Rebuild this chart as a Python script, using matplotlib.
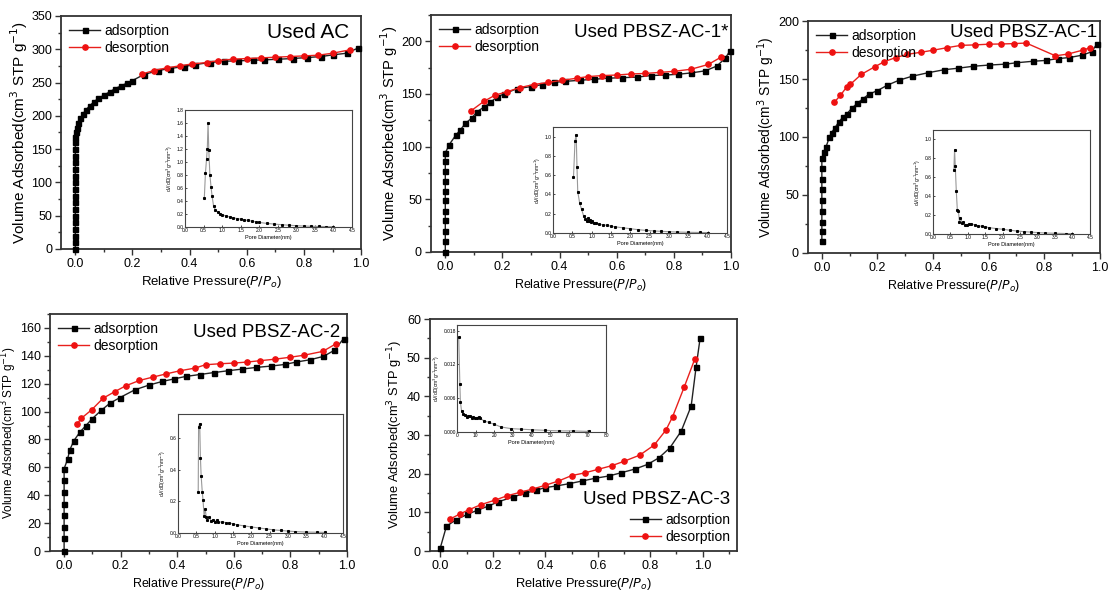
import matplotlib.pyplot as plt
from matplotlib.ticker import MultipleLocator

plt.rcParams['font.family'] = ['Liberation Sans', 'DejaVu Sans']

# ---- isotherm data (relative pressure, volume adsorbed) ----
ac_ads_x = [0] * 18 + [0.002, 0.005, 0.01, 0.018, 0.027, 0.037, 0.05, 0.065, 0.08, 0.1, 0.12, 0.14,
                       0.16, 0.18, 0.2, 0.24, 0.29, 0.33, 0.38, 0.42, 0.47, 0.52, 0.57, 0.62, 0.66,
                       0.71, 0.76, 0.81, 0.86, 0.9, 0.95, 0.99]
ac_ads_y = [0, 10, 20, 30, 40, 50, 60, 70, 80, 90, 100, 110, 120, 130, 140, 150, 160, 168,
            175, 182, 189, 196, 203, 209, 215, 221, 226, 231, 236, 241, 245, 249, 253, 262, 268,
            271, 274, 277, 280, 282, 282.5, 283.5, 284, 285, 286, 287.5, 289, 291.5, 294, 302]
ac_des_x = [0.235, 0.275, 0.32, 0.365, 0.41, 0.46, 0.5, 0.55, 0.6, 0.65, 0.7, 0.75, 0.8, 0.85,
            0.9, 0.96]
ac_des_y = [263, 268, 272, 275, 278, 280, 283, 285, 286, 287, 288, 289, 290, 291, 294, 299]

p1s_ads_x = [0] * 11 + [0.014, 0.037, 0.053, 0.07, 0.094, 0.11, 0.135, 0.158, 0.18, 0.205, 0.25,
                        0.3, 0.34, 0.38, 0.42, 0.47, 0.52, 0.57, 0.62, 0.67, 0.72, 0.77, 0.815,
                        0.86, 0.91, 0.95, 0.98, 0.995]
p1s_ads_y = [0, 10, 20, 30, 39, 49, 58, 67, 77, 86, 94, 102, 111, 116, 122, 127.5, 133, 137.5,
             142, 147, 150, 155, 157, 159, 161, 162, 163, 164, 165, 165.5, 166, 167.5, 168,
             168.7, 170, 172, 176.5, 184, 190.5]
p1s_des_x = [0.09, 0.135, 0.175, 0.215, 0.26, 0.31, 0.36, 0.41, 0.46, 0.5, 0.55, 0.6, 0.65, 0.7,
             0.75, 0.8, 0.86, 0.92, 0.965]
p1s_des_y = [134, 143, 149, 152, 156, 159, 161, 163, 165, 166.5, 167.5, 168, 169, 169.5, 170.5,
             171.5, 173.5, 178, 185]

p1_ads_x = [0] * 9 + [0.008, 0.015, 0.027, 0.035, 0.047, 0.06, 0.075, 0.09, 0.107, 0.127, 0.148,
                      0.17, 0.2, 0.236, 0.278, 0.325, 0.38, 0.44, 0.49, 0.545, 0.6, 0.66, 0.7,
                      0.76, 0.805, 0.85, 0.89, 0.935, 0.97, 0.99]
p1_ads_y = [10, 19, 27, 36, 46, 55, 64, 73, 82, 87, 91.5, 99.7, 103.7, 108, 112.6, 117, 120,
            124.6, 129, 133, 137, 140, 144.7, 149, 152.4, 155.3, 158, 159.3, 161, 162, 162.8,
            164, 165.3, 166, 167.6, 168.5, 170.5, 173.4, 180.5]
p1_des_x = [0.045, 0.067, 0.089, 0.103, 0.142, 0.19, 0.225, 0.266, 0.308, 0.355, 0.4, 0.45, 0.5,
            0.55, 0.6, 0.645, 0.69, 0.735, 0.84, 0.885, 0.94, 0.965]
p1_des_y = [130, 136, 143, 145.5, 154, 160.5, 165, 168.5, 171.3, 173, 174.8, 177, 179, 179.4,
            180, 180.2, 180.5, 181, 170, 171.5, 175, 177]

p2_ads_x = [0] * 8 + [0.012, 0.02, 0.034, 0.055, 0.077, 0.1, 0.132, 0.162, 0.197, 0.25, 0.3,
                      0.347, 0.39, 0.43, 0.48, 0.53, 0.58, 0.63, 0.68, 0.73, 0.78, 0.82, 0.87,
                      0.917, 0.956, 0.988]
p2_ads_y = [0, 9, 17, 26, 34, 42, 51, 59, 65.7, 72.4, 79, 85, 90, 95, 101, 106, 110, 115.6, 119,
            121.6, 123.5, 125.2, 126.6, 128, 129.3, 130.5, 131.7, 132.6, 133.8, 135.5, 137.2,
            139.6, 144, 152.3]
p2_des_x = [0.046, 0.061, 0.097, 0.138, 0.18, 0.218, 0.266, 0.313, 0.36, 0.41, 0.463, 0.5, 0.55,
            0.6, 0.645, 0.693, 0.746, 0.8, 0.85, 0.915, 0.96]
p2_des_y = [91, 95.2, 101.2, 109.6, 114.4, 118.5, 122.3, 124.7, 127, 129.3, 131.2, 133.6, 134.3,
            134.8, 135.5, 136.5, 137.6, 139, 140.5, 143.2, 148.5]

p3_ads_x = [0.0, 0.023, 0.06, 0.103, 0.14, 0.182, 0.22, 0.277, 0.321, 0.363, 0.4, 0.44, 0.49,
            0.54, 0.589, 0.642, 0.687, 0.742, 0.79, 0.833, 0.875, 0.918, 0.956, 0.975, 0.99]
p3_ads_y = [0.9, 6.4, 8.1, 9.5, 10.5, 11.6, 12.7, 14.0, 14.9, 15.7, 16.4, 16.8, 17.4, 18.1, 18.8,
            19.4, 20.2, 21.2, 22.4, 24.1, 26.7, 31.0, 37.5, 47.7, 55.0]
p3_des_x = [0.035, 0.075, 0.11, 0.155, 0.21, 0.255, 0.305, 0.35, 0.4, 0.45, 0.5, 0.55, 0.6,
            0.655, 0.7, 0.76, 0.815, 0.86, 0.885, 0.93, 0.97]
p3_des_y = [8.2, 9.6, 10.7, 12.0, 13.2, 14.3, 15.2, 16.0, 17.0, 18.1, 19.5, 20.2, 21.1, 22.1,
            23.2, 24.8, 27.4, 31.3, 34.7, 42.5, 49.7]

# ---- pore size distribution insets (pore diameter nm, dV/dD) ----
ac_psd_x = [0.52, 0.55, 0.58, 0.6, 0.62, 0.64, 0.67, 0.7, 0.73, 0.77, 0.82, 0.88, 0.95, 1.0, 1.1,
            1.2, 1.3, 1.4, 1.5, 1.6, 1.7, 1.8, 1.9, 2.0, 2.2, 2.4, 2.6, 2.8, 3.0, 3.2, 3.4, 3.6,
            3.8, 4.0]
ac_psd_y = [0.45, 0.83, 1.05, 1.2, 1.6, 1.19, 0.8, 0.62, 0.47, 0.32, 0.26, 0.23, 0.2, 0.19, 0.17,
            0.155, 0.14, 0.13, 0.12, 0.11, 0.1, 0.09, 0.08, 0.07, 0.055, 0.045, 0.035, 0.027,
            0.02, 0.015, 0.011, 0.008, 0.006, 0.005]
p1s_psd_x = [0.53, 0.57, 0.6, 0.62, 0.64, 0.69, 0.74, 0.79, 0.84, 0.87, 0.9, 0.93, 0.96, 0.99,
             1.02, 1.05, 1.1, 1.2, 1.3, 1.4, 1.5, 1.6, 1.8, 2.0, 2.2, 2.4, 2.6, 2.8, 3.0, 3.2,
             3.5, 3.8, 4.0]
p1s_psd_y = [0.58, 0.96, 1.02, 0.69, 0.43, 0.31, 0.245, 0.18, 0.15, 0.13, 0.155, 0.12, 0.14,
             0.11, 0.125, 0.105, 0.1, 0.09, 0.085, 0.08, 0.07, 0.065, 0.055, 0.045, 0.035, 0.028,
             0.022, 0.018, 0.014, 0.011, 0.008, 0.006, 0.005]
p1_psd_x = [0.6, 0.62, 0.64, 0.67, 0.7, 0.73, 0.76, 0.79, 0.83, 0.87, 0.92, 0.97, 1.02, 1.08,
            1.2, 1.3, 1.4, 1.5, 1.6, 1.8, 2.0, 2.2, 2.4, 2.6, 2.8, 3.0, 3.2, 3.5, 3.8, 4.0]
p1_psd_y = [0.68, 0.89, 0.72, 0.45, 0.25, 0.24, 0.13, 0.17, 0.12, 0.125, 0.1, 0.09, 0.105, 0.11,
            0.095, 0.088, 0.08, 0.075, 0.068, 0.058, 0.05, 0.04, 0.032, 0.025, 0.02, 0.015,
            0.011, 0.008, 0.005, 0.004]
p2_psd_x = [0.55, 0.56, 0.59, 0.61, 0.63, 0.66, 0.68, 0.71, 0.74, 0.77, 0.8, 0.85, 0.9, 0.95, 1.0,
            1.05, 1.1, 1.2, 1.3, 1.4, 1.5, 1.6, 1.8, 2.0, 2.2, 2.4, 2.6, 2.8, 3.0, 3.2, 3.5, 3.8,
            4.0]
p2_psd_y = [0.26, 0.67, 0.69, 0.475, 0.36, 0.26, 0.21, 0.11, 0.15, 0.1, 0.085, 0.1, 0.075, 0.085,
            0.07, 0.08, 0.068, 0.07, 0.066, 0.063, 0.058, 0.052, 0.045, 0.038, 0.032, 0.026,
            0.02, 0.016, 0.012, 0.009, 0.006, 0.005, 0.004]
p3_psd_x = [0.9, 1.5, 1.8, 2.4, 3.3, 4.2, 5.1, 6.0, 7.0, 7.9, 8.8, 9.7, 10.6, 11.6, 12.5, 14.3,
            17.0, 19.8, 23.5, 29.0, 34.5, 40.0, 47.0, 54.7, 62.0, 71.0]
p3_psd_y = [0.0168, 0.0086, 0.0053, 0.0038, 0.0032, 0.003, 0.0027, 0.0028, 0.0029, 0.0024,
            0.0027, 0.0024, 0.0025, 0.0027, 0.0024, 0.002, 0.0017, 0.0014, 0.0009, 0.0006,
            0.0005, 0.0004, 0.0003, 0.0002, 0.0002, 0.0001]

fig = plt.figure(figsize=(11.08, 5.90), dpi=100)


def isotherm(rect, ads_x, ads_y, des_x, des_y, ylim, ymajor, title, title_xy, title_size=13.5,
             ylab_size=10, xlab_size=9.2, xlim=(-0.05, 1.0), legend_loc='upper left'):
    ax = fig.add_axes(rect)
    ax.plot(ads_x, ads_y, color='#222222', lw=1, marker='s', ms=3.6, mfc='black', mec='black',
            label='adsorption', clip_on=False, zorder=3)
    ax.plot(des_x, des_y, color='#e8201c', lw=1, marker='o', ms=3.8, mfc='#ee1111', mec='#ee1111',
            label='desorption', clip_on=False, zorder=3)
    ax.set_xlim(*xlim)
    ax.set_ylim(*ylim)
    ax.xaxis.set_major_locator(MultipleLocator(0.2))
    ax.xaxis.set_minor_locator(MultipleLocator(0.1))
    ax.yaxis.set_major_locator(MultipleLocator(ymajor))
    ax.yaxis.set_minor_locator(MultipleLocator(ymajor / 2))
    ax.tick_params(which='both', direction='out', labelsize=9, width=1, color='#333333', pad=2.5)
    ax.tick_params(which='major', length=4)
    ax.tick_params(which='minor', length=2.5)
    for s in ax.spines.values():
        s.set_linewidth(1.3)
        s.set_color('#333333')
    ax.set_xlabel('Relative Pressure($P/P_o$)', fontsize=xlab_size, labelpad=3)
    ax.set_ylabel('Volume Adsorbed(cm$^3$ STP g$^{-1}$)', fontsize=ylab_size, labelpad=1)
    ax.text(title_xy[0], title_xy[1], title, transform=ax.transAxes, ha='right', va='center',
            fontsize=title_size)
    if legend_loc == 'upper left':
        ax.legend(loc='upper left', frameon=False, fontsize=10, handlelength=2.2,
                  borderaxespad=0.2, handletextpad=0.3, labelspacing=0.2)
    else:
        ax.legend(loc='lower right', frameon=False, fontsize=10, handlelength=2.2,
                  borderaxespad=0.1, handletextpad=0.3, labelspacing=0.2)
    return ax


def inset(rect, x, y, xlim, xmajor, ylim, ymajor, yfmt):
    ax = fig.add_axes(rect)
    ax.plot(x, y, color='#999999', lw=0.8, marker='s', ms=1.2, mfc='black', mec='black')
    ax.set_xlim(*xlim)
    ax.set_ylim(*ylim)
    ax.xaxis.set_major_locator(MultipleLocator(xmajor))
    ax.yaxis.set_major_locator(MultipleLocator(ymajor))
    ax.yaxis.set_major_formatter(yfmt)
    ax.tick_params(direction='in', length=1.5, width=0.5, labelsize=3.5, pad=1)
    for s in ax.spines.values():
        s.set_linewidth(0.8)
        s.set_color('#444444')
    ax.set_xlabel('Pore Diameter(nm)', fontsize=4, labelpad=1)
    ax.set_ylabel('dV/dD(cm$^3$g$^{-1}$nm$^{-1}$)', fontsize=3.5, labelpad=1)
    return ax


isotherm([0.0551, 0.578, 0.2708, 0.395], ac_ads_x, ac_ads_y, ac_des_x, ac_des_y,
         (0, 350), 50, 'Used AC', (0.96, 0.927), title_size=15, ylab_size=11, xlab_size=9.5)
isotherm([0.389, 0.5729, 0.2708, 0.4017], p1s_ads_x, p1s_ads_y, p1s_des_x, p1s_des_y,
         (0, 225), 50, 'Used PBSZ-AC-1*', (0.99, 0.924), ylab_size=10.6, xlab_size=9)
isotherm([0.7292, 0.5712, 0.2635, 0.3932], p1_ads_x, p1_ads_y, p1_des_x, p1_des_y,
         (0, 200), 50, 'Used PBSZ-AC-1', (0.99, 0.95), ylab_size=9.9, xlab_size=9)
isotherm([0.0451, 0.0661, 0.268, 0.4017], p2_ads_x, p2_ads_y, p2_des_x, p2_des_y,
         (0, 170), 20, 'Used PBSZ-AC-2', (0.976, 0.924), ylab_size=8.5, xlab_size=9)
isotherm([0.388, 0.0661, 0.277, 0.3932], p3_ads_x, p3_ads_y, p3_des_x, p3_des_y,
         (0, 60), 10, 'Used PBSZ-AC-3', (0.977, 0.22), ylab_size=9.3, xlab_size=9.3,
         xlim=(-0.04, 1.13), legend_loc='lower right')

inset([0.167, 0.6153, 0.1507, 0.1983], ac_psd_x, ac_psd_y, (0, 4.5), 0.5, (0, 1.8), 0.2, '{x:.1f}')
inset([0.4991, 0.605, 0.157, 0.1797], p1s_psd_x, p1s_psd_y, (0, 4.5), 0.5, (0, 1.1), 0.2, '{x:.1f}')
inset([0.842, 0.6034, 0.1417, 0.1763], p1_psd_x, p1_psd_y, (0, 4.5), 0.5, (0, 1.1), 0.2, '{x:.1f}')
inset([0.1607, 0.0966, 0.1489, 0.2017], p2_psd_x, p2_psd_y, (0, 4.5), 0.5, (0, 0.75), 0.2, '{x:.1f}')
inset([0.4125, 0.2678, 0.1345, 0.1814], p3_psd_x, p3_psd_y, (0, 80), 10, (0, 0.019), 0.006, '{x:.3f}')

fig.savefig('out.png', dpi=100)
